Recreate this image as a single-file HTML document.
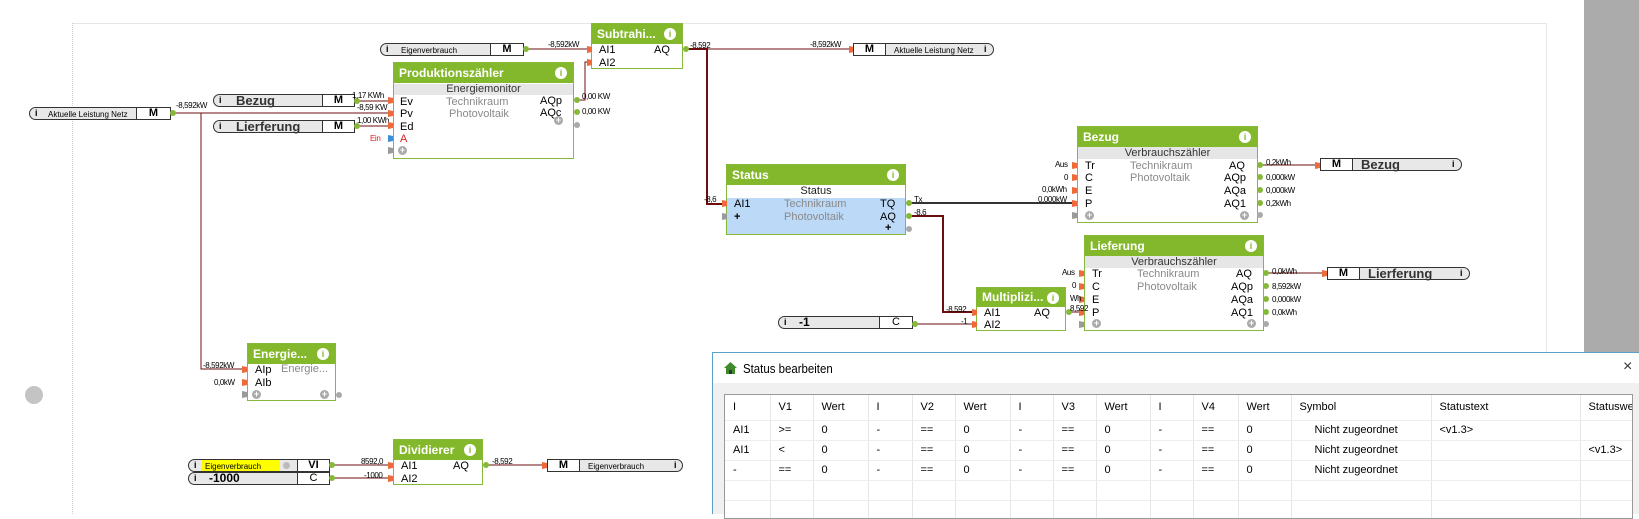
<!DOCTYPE html>
<html><head><meta charset="utf-8">
<style>
*{margin:0;padding:0;box-sizing:border-box}
body{width:1639px;height:514px;overflow:hidden;background:#fff;position:relative;font-family:"Liberation Sans",sans-serif;color:#000}
.a{position:absolute;white-space:nowrap}
.t{position:absolute;white-space:nowrap;font-size:11px;line-height:14px}
.s{position:absolute;white-space:nowrap;font-size:8px;line-height:9px;letter-spacing:-0.4px}
.g{color:#8a8a8a}
.blk{position:absolute;border:1px solid #86b83a;background:#fff}
.hd{position:absolute;left:0;right:0;top:0;height:20px;background:#84b82c;color:#fff;font-weight:bold;font-size:12px;line-height:20px;padding-left:5px}
.inf{position:absolute;right:6px;top:4px;width:12px;height:12px;border-radius:50%;background:#fff;color:#84b82c;font-size:9px;line-height:12px;text-align:center;font-weight:bold}
.sub{position:absolute;left:0;right:0;height:11px;background:#e6e6e6;font-size:11px;line-height:11px;text-align:center;color:#333}
.pin{position:absolute;width:5px;height:7px;background:#ef6a3a;clip-path:polygon(0 0,100% 15%,100% 85%,0 100%)}
.pg{background:#9a9a9a}
.pb{background:#3d8fd6}
.dot{position:absolute;width:6px;height:6px;border-radius:50%;background:#86b83a}
.dg{background:#aaa}
.plus{position:absolute;width:9px;height:9px;border-radius:50%;background:#aaa;color:#fff;font-size:9px;line-height:9px;text-align:center;font-weight:bold}
.node{position:absolute;height:13px;border:1px solid #333;border-radius:7px 0 0 7px;background:#e8e8e8;font-size:8px;line-height:11px}
.node.r{border-radius:0 7px 7px 0}
.mb{position:absolute;top:-1px;height:13px;border:1px solid #333;background:#fff;font-weight:bold;font-size:11px;line-height:11px;text-align:center}
.ii{position:absolute;top:0;font-size:9px;font-weight:bold;line-height:11px}
.th td{height:25px}
table{border-collapse:collapse;font-size:11px}
td{border-right:1px solid #e6e6e6;border-bottom:1px solid #eeeeee;padding:0 0 0 8px;height:20px;white-space:nowrap;vertical-align:middle}
</style></head><body>

<div class="a" style="left:72px;top:23px;width:1474px;height:1px;background:#e6e6e6"></div>
<div class="a" style="left:72px;top:23px;width:0;height:491px;border-left:1px dotted #ccc"></div>
<div class="a" style="left:1546px;top:23px;width:1px;height:330px;background:#e6e6e6"></div>
<div class="a" style="left:1584px;top:0;width:55px;height:353px;background:#ababab"></div>
<div class="a" style="left:25px;top:386px;width:18px;height:18px;border-radius:50%;background:#c4c4c4"></div>

<svg class="a" style="left:0;top:0" width="1639" height="514">
<g fill="none" stroke="#6e0f0f" stroke-width="1">
<path d="M175 113H388M201 113V369H243"/>
<path d="M357 101H388M357 126H388"/>
<path d="M527 49H587M578 100H585V62H587"/>
<path d="M686 49H850"/>
<path d="M915 324H972M1068 312H1080"/>
<path d="M1262 165H1316M1268 273H1323"/>
<path d="M333 465H389M333 478H389M486 465H543"/>
</g>
<g fill="none" stroke="#6e0f0f" stroke-width="2">
<path d="M686 49H707V204H723"/>
<path d="M910 216H943V312H972"/>
</g>
<path d="M910 203H1072" stroke="#333" stroke-width="2"/>
</svg>

<div class="node" style="left:29px;top:107px;width:141px"><span class="ii" style="left:5px">i</span><span class="a" style="left:18px;top:1px">Aktuelle Leistung Netz</span><div class="mb" style="left:106px;width:35px">M</div></div>
<div class="dot" style="left:170px;top:110px"></div>
<div class="s" style="left:176px;top:101px">-8,592kW</div>

<div class="node" style="left:213px;top:94px;width:141px"><span class="ii" style="left:5px">i</span><span class="a" style="left:22px;top:-1px;font-size:13px;font-weight:bold;line-height:13px;color:#333">Bezug</span><div class="mb" style="left:108px;width:33px">M</div></div>
<div class="dot" style="left:354px;top:98px"></div>
<div class="node" style="left:213px;top:120px;width:141px"><span class="ii" style="left:5px">i</span><span class="a" style="left:22px;top:-1px;font-size:13px;font-weight:bold;line-height:13px;color:#333">Lierferung</span><div class="mb" style="left:108px;width:33px">M</div></div>
<div class="dot" style="left:354px;top:123px"></div>
<div class="s" style="left:352px;top:91px">1,17 KWh</div>
<div class="s" style="left:357px;top:103px">-8,59 KW</div>
<div class="s" style="left:357px;top:116px">1,00 KWh</div>
<div class="s" style="left:370px;top:134px;color:#d22">Ein</div>

<div class="node" style="left:380px;top:43px;width:143px"><span class="ii" style="left:5px">i</span><span class="a" style="left:20px;top:1px">Eigenverbrauch</span><div class="mb" style="left:109px;width:34px">M</div></div>
<div class="dot" style="left:523px;top:46px"></div>
<div class="s" style="left:548px;top:40px">-8,592kW</div>

<div class="blk" style="left:393px;top:62px;width:181px;height:97px">
 <div class="hd">Produktionszähler<div class="inf">i</div></div>
 <div class="sub" style="top:21px">Energiemonitor</div>
 <div class="t" style="left:6px;top:32px">Ev</div><div class="t" style="left:6px;top:44px">Pv</div><div class="t" style="left:6px;top:57px">Ed</div><div class="t" style="left:6px;top:69px;color:#d22">A</div>
 <div class="t g" style="left:52px;top:32px">Technikraum</div><div class="t g" style="left:55px;top:44px">Photovoltaik</div>
 <div class="t" style="left:146px;top:31px">AQp</div><div class="t" style="left:146px;top:43px">AQc</div>
 <div class="plus" style="left:160px;top:53px">+</div><div class="plus" style="left:4px;top:83px">+</div>
</div>
<div class="pin" style="left:388px;top:97px"></div><div class="pin" style="left:388px;top:110px"></div><div class="pin" style="left:388px;top:122px"></div><div class="pin pb" style="left:388px;top:135px"></div><div class="pin pg" style="left:388px;top:147px"></div>
<div class="dot" style="left:574px;top:97px"></div><div class="dot" style="left:574px;top:109px"></div><div class="dot dg" style="left:574px;top:122px"></div>
<div class="s" style="left:582px;top:92px">0,00 KW</div><div class="s" style="left:582px;top:107px">0,00 KW</div>

<div class="blk" style="left:591px;top:23px;width:92px;height:46px">
 <div class="hd">Subtrahi...<div class="inf">i</div></div>
 <div class="t" style="left:7px;top:19px">AI1</div><div class="t" style="left:7px;top:32px">AI2</div><div class="t" style="left:62px;top:19px">AQ</div>
</div>
<div class="pin" style="left:587px;top:46px"></div><div class="pin" style="left:587px;top:59px"></div>
<div class="dot" style="left:683px;top:46px"></div>
<div class="s" style="left:690px;top:41px">-8,592</div>
<div class="s" style="left:810px;top:40px">-8,592kW</div>

<div class="pin" style="left:849px;top:46px"></div>
<div class="node r" style="left:853px;top:43px;width:141px"><div class="mb" style="left:-1px;width:33px">M</div><span class="a" style="left:40px;top:1px">Aktuelle Leistung Netz</span><span class="ii" style="left:130px">i</span></div>

<div class="blk" style="left:726px;top:164px;width:180px;height:71px">
 <div class="hd">Status<div class="inf">i</div></div>
 <div class="a" style="left:0;right:0;top:20px;height:13px;font-size:11px;line-height:13px;text-align:center;color:#222">Status</div>
 <div class="a" style="left:0;right:0;top:33px;height:36px;background:#bcd9f7"></div>
 <div class="t" style="left:7px;top:32px">AI1</div><div class="t" style="left:7px;top:45px;font-weight:bold">+</div>
 <div class="t g" style="left:57px;top:32px">Technikraum</div><div class="t g" style="left:57px;top:45px">Photovoltaik</div>
 <div class="t" style="left:153px;top:32px">TQ</div><div class="t" style="left:153px;top:45px">AQ</div><div class="t" style="left:158px;top:56px;font-weight:bold">+</div>
</div>
<div class="pin" style="left:722px;top:200px"></div><div class="pin pg" style="left:722px;top:213px"></div>
<div class="dot" style="left:906px;top:200px"></div><div class="dot" style="left:906px;top:213px"></div><div class="dot dg" style="left:906px;top:226px"></div>
<div class="s" style="left:704px;top:195px">-8,6</div>
<div class="s" style="left:914px;top:195px">Tx</div><div class="s" style="left:914px;top:208px">-8,6</div>

<div class="blk" style="left:1077px;top:126px;width:181px;height:97px">
 <div class="hd">Bezug<div class="inf">i</div></div>
 <div class="sub" style="top:20px;height:12px;line-height:12px">Verbrauchszähler</div>
 <div class="t" style="left:7px;top:32px">Tr</div><div class="t" style="left:7px;top:44px">C</div><div class="t" style="left:7px;top:57px">E</div><div class="t" style="left:7px;top:70px">P</div>
 <div class="t g" style="left:52px;top:32px">Technikraum</div><div class="t g" style="left:52px;top:44px">Photovoltaik</div>
 <div class="t" style="left:151px;top:32px">AQ</div><div class="t" style="left:146px;top:44px">AQp</div><div class="t" style="left:146px;top:57px">AQa</div><div class="t" style="left:146px;top:70px">AQ1</div>
 <div class="plus" style="left:7px;top:84px">+</div><div class="plus" style="left:162px;top:84px">+</div>
</div>
<div class="pin" style="left:1072px;top:162px"></div><div class="pin" style="left:1072px;top:174px"></div><div class="pin" style="left:1072px;top:187px"></div><div class="pin" style="left:1072px;top:200px"></div><div class="pin pg" style="left:1072px;top:212px"></div>
<div class="s" style="left:1055px;top:160px">Aus</div><div class="s" style="left:1064px;top:173px">0</div><div class="s" style="left:1042px;top:185px">0,0kWh</div><div class="s" style="left:1038px;top:195px">0,000kW</div>
<div class="dot" style="left:1257px;top:162px"></div><div class="dot" style="left:1257px;top:174px"></div><div class="dot" style="left:1257px;top:187px"></div><div class="dot" style="left:1257px;top:200px"></div><div class="dot dg" style="left:1257px;top:212px"></div>
<div class="s" style="left:1266px;top:158px">0,2kWh</div><div class="s" style="left:1266px;top:173px">0,000kW</div><div class="s" style="left:1266px;top:186px">0,000kW</div><div class="s" style="left:1266px;top:199px">0,2kWh</div>
<div class="pin" style="left:1315px;top:162px"></div>
<div class="node r" style="left:1320px;top:158px;width:142px"><div class="mb" style="left:-1px;width:33px">M</div><span class="a" style="left:40px;top:-1px;font-size:13px;font-weight:bold;line-height:13px;color:#333">Bezug</span><span class="ii" style="left:131px">i</span></div>

<div class="blk" style="left:1084px;top:235px;width:180px;height:96px">
 <div class="hd">Lieferung<div class="inf">i</div></div>
 <div class="sub" style="top:20px;height:12px;line-height:12px">Verbrauchszähler</div>
 <div class="t" style="left:7px;top:31px">Tr</div><div class="t" style="left:7px;top:44px">C</div><div class="t" style="left:7px;top:57px">E</div><div class="t" style="left:7px;top:70px">P</div>
 <div class="t g" style="left:52px;top:31px">Technikraum</div><div class="t g" style="left:52px;top:44px">Photovoltaik</div>
 <div class="t" style="left:151px;top:31px">AQ</div><div class="t" style="left:146px;top:44px">AQp</div><div class="t" style="left:146px;top:57px">AQa</div><div class="t" style="left:146px;top:70px">AQ1</div>
 <div class="plus" style="left:7px;top:83px">+</div><div class="plus" style="left:162px;top:83px">+</div>
</div>
<div class="pin" style="left:1079px;top:270px"></div><div class="pin" style="left:1079px;top:283px"></div><div class="pin" style="left:1079px;top:296px"></div><div class="pin" style="left:1079px;top:309px"></div><div class="pin pg" style="left:1079px;top:321px"></div>
<div class="s" style="left:1062px;top:268px">Aus</div><div class="s" style="left:1072px;top:281px">0</div><div class="s" style="left:1070px;top:294px">Wh</div>
<div class="dot" style="left:1263px;top:270px"></div><div class="dot" style="left:1263px;top:283px"></div><div class="dot" style="left:1263px;top:296px"></div><div class="dot" style="left:1263px;top:309px"></div><div class="dot dg" style="left:1263px;top:321px"></div>
<div class="s" style="left:1272px;top:267px">0,0kWh</div><div class="s" style="left:1272px;top:282px">8,592kW</div><div class="s" style="left:1272px;top:295px">0,000kW</div><div class="s" style="left:1272px;top:308px">0,0kWh</div>
<div class="pin" style="left:1322px;top:270px"></div>
<div class="node r" style="left:1327px;top:267px;width:143px"><div class="mb" style="left:-1px;width:33px">M</div><span class="a" style="left:40px;top:-1px;font-size:13px;font-weight:bold;line-height:13px;color:#333">Lierferung</span><span class="ii" style="left:132px">i</span></div>

<div class="blk" style="left:976px;top:287px;width:90px;height:44px">
 <div class="hd" style="height:19px;line-height:19px">Multiplizi...<div class="inf">i</div></div>
 <div class="t" style="left:7px;top:18px">AI1</div><div class="t" style="left:7px;top:30px">AI2</div><div class="t" style="left:57px;top:18px">AQ</div>
</div>
<div class="pin" style="left:972px;top:309px"></div><div class="pin" style="left:972px;top:321px"></div>
<div class="dot" style="left:1066px;top:309px"></div>
<div class="s" style="left:946px;top:305px">-8,592</div><div class="s" style="left:961px;top:317px">-1</div><div class="s" style="left:1070px;top:304px">8,592</div>

<div class="node" style="left:778px;top:316px;width:134px;font-size:12px"><span class="ii" style="left:5px">i</span><span class="a" style="left:20px;top:0;font-weight:bold">-1</span><div class="mb" style="left:100px;width:34px;font-weight:normal">C</div></div>
<div class="dot" style="left:912px;top:321px"></div>

<div class="blk" style="left:247px;top:343px;width:89px;height:58px">
 <div class="hd">Energie...<div class="inf">i</div></div>
 <div class="t" style="left:7px;top:19px">AIp</div><div class="t" style="left:7px;top:32px">AIb</div>
 <div class="t g" style="left:33px;top:18px">Energie...</div>
 <div class="plus" style="left:4px;top:46px">+</div><div class="plus" style="left:72px;top:46px">+</div>
</div>
<div class="pin" style="left:242px;top:366px"></div><div class="pin" style="left:242px;top:379px"></div><div class="pin pg" style="left:242px;top:391px"></div>
<div class="dot dg" style="left:336px;top:392px"></div>
<div class="s" style="left:203px;top:361px">-8,592kW</div><div class="s" style="left:214px;top:378px">0,0kW</div>

<div class="node" style="left:188px;top:459px;width:141px"><span class="ii" style="left:5px">i</span><div class="a" style="left:12px;top:0;width:79px;height:11px;background:#ffff00"></div><span class="a" style="left:16px;top:1px">Eigenverbrauch</span><div class="a" style="left:94px;top:2px;width:7px;height:7px;border-radius:50%;background:#bbb"></div><div class="mb" style="left:108px;width:33px">VI</div></div>
<div class="node" style="left:188px;top:472px;width:141px;font-size:12px"><span class="ii" style="left:5px">i</span><span class="a" style="left:20px;top:0;font-weight:bold">-1000</span><div class="mb" style="left:108px;width:33px;font-weight:normal">C</div></div>
<div class="dot" style="left:329px;top:462px"></div><div class="dot" style="left:329px;top:475px"></div>
<div class="s" style="left:361px;top:457px">8592,0</div><div class="s" style="left:364px;top:471px">-1000</div>
<div class="blk" style="left:393px;top:439px;width:90px;height:46px">
 <div class="hd">Dividierer<div class="inf">i</div></div>
 <div class="t" style="left:7px;top:19px">AI1</div><div class="t" style="left:7px;top:32px">AI2</div><div class="t" style="left:59px;top:19px">AQ</div>
</div>
<div class="pin" style="left:388px;top:462px"></div><div class="pin" style="left:388px;top:475px"></div>
<div class="dot" style="left:483px;top:462px"></div>
<div class="s" style="left:492px;top:457px">-8,592</div>
<div class="pin" style="left:542px;top:462px"></div>
<div class="node r" style="left:547px;top:459px;width:136px"><div class="mb" style="left:-1px;width:33px">M</div><span class="a" style="left:40px;top:1px">Eigenverbrauch</span><span class="ii" style="left:126px">i</span></div>

<div class="a" style="left:712px;top:352px;width:927px;height:162px;background:#f0f0f0;border-left:1px solid #5aa0c8;border-top:1px solid #5aa0c8">
 <div class="a" style="left:0;top:0;width:927px;height:30px;background:#fff"></div>
 <svg class="a" style="left:10px;top:8px" width="15" height="14"><path d="M7.5 1L1 7h2v6h9V7h2z" fill="#3f8a2a"/><rect x="6" y="9" width="3" height="4" fill="#333"/></svg>
 <div class="a" style="left:30px;top:8px;font-size:13px;line-height:15px;transform:scaleX(0.88);transform-origin:left">Status bearbeiten</div>
 <div class="a" style="left:910px;top:6px;font-size:16px;line-height:16px;color:#333">×</div>
 <div class="a" style="left:11px;top:41px;width:909px;height:125px;background:#fff;border:1px solid #999;overflow:hidden">
 <table style="width:1000px">
 <tr class="th"><td style="width:45px">I</td><td style="width:43px">V1</td><td style="width:55px">Wert</td><td style="width:44px">I</td><td style="width:43px">V2</td><td style="width:55px">Wert</td><td style="width:43px">I</td><td style="width:43px">V3</td><td style="width:54px">Wert</td><td style="width:43px">I</td><td style="width:45px">V4</td><td style="width:53px">Wert</td><td style="width:140px">Symbol</td><td style="width:149px">Statustext</td><td>Statuswe</td></tr>
 <tr><td>AI1</td><td>&gt;=</td><td>0</td><td>-</td><td>==</td><td>0</td><td>-</td><td>==</td><td>0</td><td>-</td><td>==</td><td>0</td><td style="padding-left:23px">Nicht zugeordnet</td><td>&lt;v1.3&gt;</td><td></td></tr>
 <tr><td>AI1</td><td>&lt;</td><td>0</td><td>-</td><td>==</td><td>0</td><td>-</td><td>==</td><td>0</td><td>-</td><td>==</td><td>0</td><td style="padding-left:23px">Nicht zugeordnet</td><td></td><td>&lt;v1.3&gt;</td></tr>
 <tr><td>-</td><td>==</td><td>0</td><td>-</td><td>==</td><td>0</td><td>-</td><td>==</td><td>0</td><td>-</td><td>==</td><td>0</td><td style="padding-left:23px">Nicht zugeordnet</td><td></td><td></td></tr>
 <tr><td></td><td></td><td></td><td></td><td></td><td></td><td></td><td></td><td></td><td></td><td></td><td></td><td></td><td></td><td></td></tr>
 <tr><td></td><td></td><td></td><td></td><td></td><td></td><td></td><td></td><td></td><td></td><td></td><td></td><td></td><td></td><td></td></tr>
 </table>
 </div>
</div>
</body></html>
